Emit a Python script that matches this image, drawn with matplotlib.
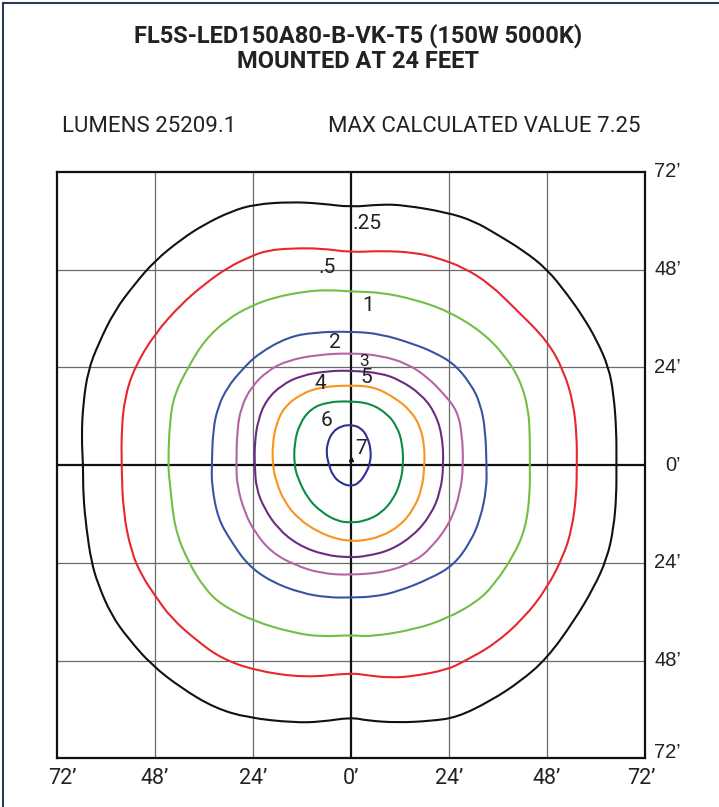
import matplotlib
matplotlib.use("Agg")
import matplotlib.pyplot as plt
from matplotlib.lines import Line2D
from matplotlib.path import Path
from matplotlib.patches import PathPatch

# isofootcandle contours, points in feet, traced clockwise from the top
LEVEL_LABELS = [".25", ".5", "1", "2", "3", "4", "5", "6", "7"]
LEVEL_COLORS = ["#111111", "#e8262b", "#72bf44", "#3953a4", "#b565a7",
                "#6a2c82", "#f7941d", "#0b8b45", "#2e3192"]

C_025 = [(0, 63.3), (7.3, 64.0), (13.0, 63.8), (23.6, 62.0), (30.1, 59.9), (35.8, 56.6),
         (42.3, 52.6), (48.0, 48.1), (52.9, 42.0), (56.9, 36.3), (60.2, 30.6), (63.1, 24.0),
         (64.3, 17.5), (65.0, 8.6), (65.0, 0), (65.0, -7.4), (64.3, -15.6), (62.7, -22.9),
         (59.4, -30.2), (54.5, -38.4), (48.0, -47.4), (41.5, -53.1), (34.1, -57.9),
         (26.0, -61.9), (19.5, -62.8), (11.3, -63.2), (4.0, -62.7), (0, -61.9),
         (-7.3, -63.0), (-13.9, -63.2), (-25.3, -62.0), (-33.4, -59.6), (-41.6, -54.7),
         (-48.9, -49.0), (-54.6, -42.5), (-58.7, -36.8), (-61.9, -29.4), (-63.6, -23.7),
         (-64.8, -15.6), (-65.6, -7.4), (-65.6, 0), (-66.0, 6.9), (-65.6, 15.1),
         (-64.4, 23.2), (-61.9, 29.7), (-57.9, 37.9), (-53.0, 44.4), (-48.1, 50.1),
         (-41.6, 55.4), (-35.9, 59.1), (-29.3, 62.3), (-23.6, 64.0), (-14.7, 64.6),
         (-7.3, 64.2)]

C_05 = [(0, 52.2), (7.3, 52.6), (15.4, 52.2), (21.1, 50.9), (27.6, 48.5), (34.1, 44.4),
        (40.7, 37.9), (48.0, 30.6), (52.1, 23.2), (54.5, 15.1), (55.3, 6.9), (55.3, 0),
        (55.2, -7.4), (54.1, -15.6), (52.1, -22.1), (48.0, -30.2), (42.3, -37.6),
        (35.0, -44.1), (27.6, -48.2), (23.6, -50.2), (15.4, -51.8), (9.7, -52.2),
        (4.0, -51.6), (0, -51.0), (-11.4, -52.2), (-23.6, -50.4), (-31.8, -47.4),
        (-37.5, -43.3), (-44.0, -37.6), (-48.1, -31.9), (-51.3, -27.0), (-53.8, -21.3),
        (-55.8, -11.5), (-56.2, 0), (-56.2, 8.6), (-55.4, 16.7), (-53.0, 24.0),
        (-48.1, 32.2), (-41.6, 39.5), (-35.9, 44.4), (-30.2, 48.5), (-24.4, 51.3),
        (-20.4, 52.7), (-14.7, 53.2), (-7.3, 53.2)]

C_1 = [(0, 42.6), (7.3, 42.4), (15.4, 40.7), (23.6, 37.9), (31.7, 33.0), (37.4, 27.3),
       (41.5, 20.8), (43.5, 13.4), (43.8, 6.9), (43.8, 0), (43.8, -7.4), (42.7, -15.6),
       (39.9, -22.1), (35.0, -29.4), (30.9, -33.5), (23.6, -37.6), (15.4, -40.4),
       (4.8, -42.1), (0, -41.7), (-7.3, -42.1), (-13.9, -41.2), (-23.6, -38.4),
       (-31.8, -34.3), (-35.9, -30.2), (-39.9, -23.7), (-43.2, -15.6), (-44.4, -4.2),
       (-44.8, 0), (-44.4, 11.0), (-43.2, 17.5), (-39.9, 24.0), (-35.9, 30.6),
       (-30.2, 35.9), (-24.4, 39.1), (-18.7, 41.2), (-11.4, 42.6), (-5.7, 43.0)]

C_2 = [(0, 32.8), (7.3, 32.2), (15.4, 29.7), (20.3, 27.7), (25.2, 24.9), (29.3, 20.0),
       (31.7, 15.1), (32.9, 8.6), (33.2, 0), (33.2, -5.8), (31.7, -13.1), (29.3, -18.8),
       (25.2, -24.5), (19.5, -27.8), (11.3, -31.1), (5.6, -32.3), (0, -32.5),
       (-5.7, -32.5), (-12.2, -31.4), (-19.6, -28.6), (-25.3, -24.5), (-29.3, -18.8),
       (-32.6, -13.1), (-34.1, -5.0), (-34.1, 0), (-33.8, 8.6), (-32.6, 14.3),
       (-30.2, 19.2), (-26.9, 23.2), (-22.8, 27.3), (-15.5, 31.4), (-9.0, 32.6)]

C_3 = [(0, 27.5), (7.3, 26.9), (13.8, 24.9), (18.7, 21.6), (22.7, 17.5), (26.0, 13.4),
       (27.2, 7.7), (27.5, 0), (26.8, -6.6), (24.4, -14.0), (19.5, -20.5), (15.4, -23.7),
       (8.9, -26.2), (0, -27.0), (-7.3, -26.6), (-13.9, -24.5), (-19.6, -21.3),
       (-23.6, -16.4), (-26.1, -11.5), (-27.9, -5.0), (-28.1, 0), (-27.9, 8.6),
       (-26.9, 14.3), (-24.4, 19.2), (-20.4, 23.2), (-15.5, 25.7), (-8.1, 27.1)]

C_4 = [(0, 23.2), (7.3, 22.6), (12.1, 20.8), (17.0, 17.5), (20.3, 13.4), (22.3, 7.7),
       (22.7, 0), (21.9, -6.6), (19.5, -12.3), (15.4, -17.2), (9.7, -20.9), (4.0, -22.3),
       (0, -22.7), (-6.5, -22.1), (-13.0, -19.6), (-17.9, -15.6), (-21.2, -10.7),
       (-23.2, -5.8), (-23.6, 0), (-23.6, 5.3), (-22.8, 11.0), (-20.8, 15.9),
       (-17.1, 19.6), (-12.2, 22.0), (-5.7, 23.1)]

C_5 = [(0, 19.6), (5.6, 19.2), (10.5, 16.7), (14.6, 13.4), (17.0, 9.4), (18.0, 4.5),
       (18.0, 0), (17.4, -5.8), (15.4, -10.7), (12.1, -14.8), (7.3, -17.6), (2.4, -18.6),
       (0, -18.6), (-3.3, -18.2), (-8.1, -16.4), (-13.0, -13.1), (-16.3, -9.0),
       (-18.3, -4.2), (-19.2, 0), (-19.2, 5.3), (-18.3, 10.2), (-16.3, 14.3),
       (-12.2, 17.5), (-7.3, 19.2)]

C_6 = [(0, 15.7), (4.8, 15.1), (8.9, 12.6), (11.3, 9.4), (12.6, 5.3), (12.8, 0),
       (12.1, -4.2), (10.5, -8.2), (7.3, -11.9), (3.2, -13.8), (0, -14.1), (-3.3, -13.8),
       (-7.3, -11.5), (-10.6, -8.2), (-13.0, -3.3), (-13.9, 0), (-13.9, 5.3),
       (-12.6, 10.2), (-9.8, 13.9), (-5.7, 15.5)]

C_7 = [(0, 9.9), (2.4, 9.2), (4.0, 7.0), (4.9, 3.7), (4.7, 0.5), (3.7, -1.9), (2.0, -4.4),
       (0, -5.2), (-2.4, -4.5), (-4.5, -2.6), (-5.6, 0.7), (-6.0, 2.9), (-5.8, 5.3),
       (-4.6, 8.1), (-2.4, 9.6)]

CONTOURS = [C_025, C_05, C_1, C_2, C_3, C_4, C_5, C_6, C_7]

# label anchor points (feet)
LABEL_X = [0.3, -5.9, 4.1, -4.0, 3.2, -7.6, 3.7, -6.1, 2.5]
LABEL_Y = [59.4, 48.6, 39.2, 30.2, 25.5, 20.0, 21.6, 11.0, 4.2]

TICKS = [-72, -48, -24, 0, 24, 48, 72]
TICK_LABELS = ["72\u2019", "48\u2019", "24\u2019", "0\u2019", "24\u2019", "48\u2019", "72\u2019"]

TITLE = "FL5S-LED150A80-B-VK-T5 (150W 5000K)\nMOUNTED AT 24 FEET"
LUMENS = "LUMENS 25209.1"
MAXVAL = "MAX CALCULATED VALUE 7.25"


def smooth_closed_path(pts):
    # quadratic bezier through midpoints, points used as control points
    n = len(pts)
    mids = [((pts[i][0] + pts[(i + 1) % n][0]) / 2, (pts[i][1] + pts[(i + 1) % n][1]) / 2)
            for i in range(n)]
    verts = [mids[-1]]
    codes = [Path.MOVETO]
    for i in range(n):
        verts += [pts[i], mids[i]]
        codes += [Path.CURVE3, Path.CURVE3]
    return Path(verts, codes)


fig = plt.figure(figsize=(7.19, 8.07), dpi=100)
ax = fig.add_axes([0.0793, 0.0601, 0.8178, 0.7271])

# grid
for t in TICKS:
    if t in (0, -72, 72):
        continue
    ax.axvline(t, color="#6a6a6a", lw=0.9, zorder=1)
    ax.axhline(t, color="#6a6a6a", lw=0.9, zorder=1)
ax.axvline(0, color="#111111", lw=1.6, zorder=2)
ax.axhline(0, color="#111111", lw=1.6, zorder=2)

for pts, col in zip(CONTOURS, LEVEL_COLORS):
    ax.add_patch(PathPatch(smooth_closed_path(pts), facecolor="none", edgecolor=col,
                           lw=1.5, zorder=3))

for lab, lx, ly in zip(LEVEL_LABELS, LABEL_X, LABEL_Y):
    fs = 12.5 if lab == "3" else 15
    ha = "left" if lab == ".25" else "center"
    ax.text(lx, ly, lab, fontsize=fs, ha=ha, va="center", color="#222222",
            family=["Roboto", "DejaVu Sans"], zorder=4)

ax.plot([0], [1.4], marker="^", ms=3, color="#111111", zorder=5)

ax.set_xlim(-72, 72)
ax.set_ylim(-72, 72)
ax.set_xticks([])
ax.set_yticks([])
for s in ax.spines.values():
    s.set_linewidth(1.6)
    s.set_color("#111111")

# axis labels
for t, lab in zip(TICKS, TICK_LABELS):
    bx = t
    if t == -72:
        bx = -70.6
    elif t == 72:
        bx = 71.2
    ax.text(bx, -77.0, lab, ha="center", va="center", fontsize=15.5, color="#222222",
            family=["Roboto", "DejaVu Sans"], clip_on=False)
    ry = t
    if t == -72:
        ry = -70.5
    ax.text(80.8, ry, lab, ha="right", va="center", fontsize=14.5, color="#222222",
            family=["Liberation Sans", "DejaVu Sans"], clip_on=False)

fig.text(358 / 719, 1 - 48 / 807, TITLE, ha="center", va="center", fontsize=17,
         fontweight="bold", linespacing=1.12, color="#222222", family=["Roboto", "DejaVu Sans"])
fig.text(62 / 719, 1 - 127 / 807, LUMENS, ha="left", va="center", fontsize=16,
         color="#222222", family=["Roboto", "DejaVu Sans"])
fig.text(328 / 719, 1 - 127 / 807, MAXVAL, ha="left", va="center", fontsize=16,
         color="#222222", family=["Roboto", "DejaVu Sans"])

# page frame on left and top
fig.add_artist(Line2D([2.5 / 719, 2.5 / 719], [0, 1 - 2.5 / 807], transform=fig.transFigure,
                      color="#2b3a5c", lw=1.5))
fig.add_artist(Line2D([2.5 / 719, 1], [1 - 2.5 / 807, 1 - 2.5 / 807], transform=fig.transFigure,
                      color="#2b3a5c", lw=1.5))

fig.savefig("out.png", dpi=100)
